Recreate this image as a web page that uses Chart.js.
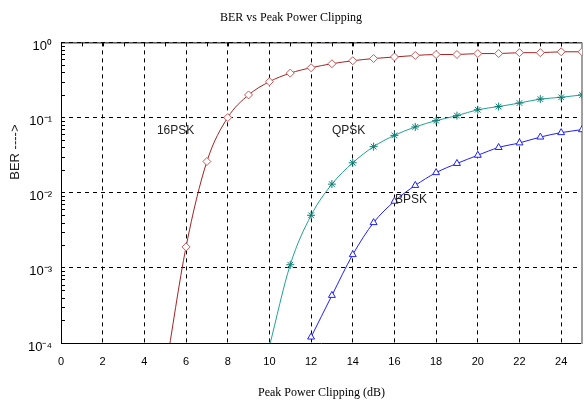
<!DOCTYPE html>
<html>
<head>
<meta charset="utf-8">
<script src="https://cdn.jsdelivr.net/npm/chart.js@4/dist/chart.umd.min.js"></script>
<style>
  html, body { margin: 0; padding: 0; background: #fff; }
  canvas { display: block; }
</style>
</head>
<body>
<canvas id="berChart" width="584" height="401"></canvas>
<script>
// clipping level (dB) and BER
const clip16 = [5, 6, 7, 8, 9, 10, 11, 12, 13, 14, 15, 16, 17, 18, 19, 20, 21, 22, 23, 24, 25];
const ber16 = [0.00004, 0.0019, 0.026, 0.1, 0.2, 0.3, 0.39, 0.46, 0.52, 0.57, 0.61, 0.64, 0.67, 0.69, 0.69, 0.71, 0.71, 0.73, 0.73, 0.75, 0.75];

const clipQ = [10, 11, 12, 13, 14, 15, 16, 17, 18, 19, 20, 21, 22, 23, 24, 25];
const berQ = [0.00009, 0.0011, 0.005, 0.013, 0.025, 0.041, 0.058, 0.075, 0.091, 0.106, 0.127, 0.14, 0.156, 0.176, 0.186, 0.2];

const clipB = [12, 13, 14, 15, 16, 17, 18, 19, 20, 21, 22, 23, 24, 25];
const berB = [0.00012, 0.00043, 0.0015, 0.004, 0.0077, 0.0125, 0.0185, 0.0245, 0.0315, 0.04, 0.046, 0.055, 0.063, 0.069];

const xTicks = [0, 2, 4, 6, 8, 10, 12, 14, 16, 18, 20, 22, 24];
const yTicks = [1e-4, 1e-3, 1e-2, 1e-1, 1];
const yTickLabels = ["10\u207B\u2074", "10\u207B\u00B3", "10\u207B\u00B2", "10\u207B\u00B9", "10\u2070"];

// curve name labels, placed in data units
const curveNames = ["16PSK", "QPSK", "BPSK"];
const nameX = [5.5, 13.8, 16.8];
const nameY = [0.067, 0.067, 0.0081];

const sans = "'Liberation Sans', Arial, sans-serif";
const serif = "'Liberation Serif', 'Times New Roman', serif";

const toPoints = (xs, ys) => xs.map((x, i) => ({ x, y: ys[i] }));

const framePlugin = {
    id: "frame",
    beforeDatasetsDraw(chart) {
        const { ctx, chartArea: a, scales } = chart;
        ctx.save();
        ctx.setLineDash([]);
        ctx.lineWidth = 1;
        ctx.strokeStyle = "#000";
        ctx.beginPath();
        ctx.moveTo(a.right, a.top + 0.5);
        ctx.lineTo(a.left + 0.5, a.top + 0.5);
        ctx.lineTo(a.left + 0.5, a.bottom + 0.5);
        ctx.lineTo(a.right, a.bottom + 0.5);
        ctx.stroke();

        // minor ticks on the left axis
        ctx.beginPath();
        for (let d = -4; d < 0; d++) {
            for (let m = 2; m <= 9; m++) {
                const py = Math.round(scales.y.getPixelForValue(m * Math.pow(10, d))) + 0.5;
                ctx.moveTo(a.left, py);
                ctx.lineTo(a.left + 4, py);
            }
        }
        // ticks along the top edge
        for (let v = 1; v < 25; v++) {
            const px = Math.round(scales.x.getPixelForValue(v)) + 0.5;
            ctx.moveTo(px, a.top);
            ctx.lineTo(px, a.top + 4);
        }
        ctx.stroke();

        ctx.strokeStyle = "#a0a0a0";
        ctx.lineWidth = 2;
        ctx.beginPath();
        ctx.moveTo(a.right, a.top);
        ctx.lineTo(a.right, a.bottom + 1);
        ctx.stroke();
        ctx.restore();
    },
    afterDraw(chart) {
        const { ctx, chartArea: a, scales } = chart;
        ctx.save();
        ctx.fillStyle = "#222";
        ctx.font = "12px " + sans;
        ctx.textAlign = "center";
        ctx.textBaseline = "middle";
        curveNames.forEach((name, i) => {
            ctx.fillText(name, scales.x.getPixelForValue(nameX[i]), scales.y.getPixelForValue(nameY[i]));
        });

        // y axis title
        ctx.font = "13px " + sans;
        ctx.translate(15, a.top + 0.365 * (a.bottom - a.top));
        ctx.rotate(-Math.PI / 2);
        ctx.fillText("BER ---->", 0, 0);
        ctx.restore();
    }
};

new Chart(document.getElementById("berChart"), {
    type: "line",
    data: {
        datasets: [
            {
                label: "16PSK",
                data: toPoints(clip16, ber16),
                borderColor: "#a52424",
                borderWidth: 1,
                pointStyle: "rectRot",
                pointRadius: clip16.map((x) => (x < 6 ? 0 : 4)),
                pointBorderColor: "#c25a5a",
                pointBackgroundColor: "#fff",
                pointBorderWidth: 1,
                cubicInterpolationMode: "monotone"
            },
            {
                label: "QPSK",
                data: toPoints(clipQ, berQ),
                borderColor: "#23a095",
                borderWidth: 1,
                pointStyle: "star",
                pointRadius: clipQ.map((x) => (x < 11 ? 0 : 4)),
                pointBorderColor: "#0f7f74",
                pointBackgroundColor: "#0f7f74",
                pointBorderWidth: 1,
                cubicInterpolationMode: "monotone"
            },
            {
                label: "BPSK",
                data: toPoints(clipB, berB),
                borderColor: "#1f1fff",
                borderWidth: 1,
                pointStyle: "triangle",
                pointRadius: 4,
                pointBorderColor: "#1f1fff",
                pointBackgroundColor: "#fff",
                pointBorderWidth: 1,
                cubicInterpolationMode: "monotone"
            }
        ]
    },
    options: {
        responsive: false,
        animation: false,
        devicePixelRatio: 1,
        layout: { autoPadding: false, padding: { left: 0, right: 2, top: 0, bottom: 0 } },
        plugins: {
            legend: { display: false },
            tooltip: { enabled: false },
            title: {
                display: true,
                text: "BER vs Peak Power Clipping",
                color: "#000",
                font: { family: serif, size: 12, weight: "normal" },
                padding: { top: 11, bottom: 17 }
            }
        },
        scales: {
            x: {
                type: "linear",
                min: 0,
                max: 25,
                afterBuildTicks: (scale) => { scale.ticks = xTicks.map((v) => ({ value: v })); },
                afterFit: (scale) => {
                    scale.height = 58;
                    scale.paddingLeft = 0;
                    scale.paddingRight = 0;
                },
                ticks: {
                    color: "#000",
                    padding: 12,
                    maxRotation: 0,
                    autoSkip: false,
                    font: { family: sans, size: 11 },
                    callback: (v) => String(v)
                },
                grid: { color: "#000", lineWidth: 1, drawTicks: false },
                border: { display: false, dash: [4, 4] },
                title: {
                    display: true,
                    text: "Peak Power Clipping (dB)",
                    color: "#000",
                    font: { family: serif, size: 12 },
                    padding: { top: 0, bottom: 1 }
                }
            },
            y: {
                type: "logarithmic",
                min: 1e-4,
                max: 1,
                afterBuildTicks: (scale) => { scale.ticks = yTicks.map((v) => ({ value: v })); },
                afterFit: (scale) => {
                    scale.width = 61;
                    scale.paddingTop = 0;
                    scale.paddingBottom = 0;
                },
                ticks: {
                    color: "#000",
                    padding: 9,
                    labelOffset: 4,
                    autoSkip: false,
                    font: { family: sans, size: 13 },
                    callback: (v) => yTickLabels[yTicks.findIndex((t) => Math.abs(Math.log10(t) - Math.log10(v)) < 1e-6)] ?? ""
                },
                grid: { color: "#000", lineWidth: 1, drawTicks: false },
                border: { display: false, dash: [4, 4] }
            }
        }
    },
    plugins: [framePlugin]
});
</script>
</body>
</html>
